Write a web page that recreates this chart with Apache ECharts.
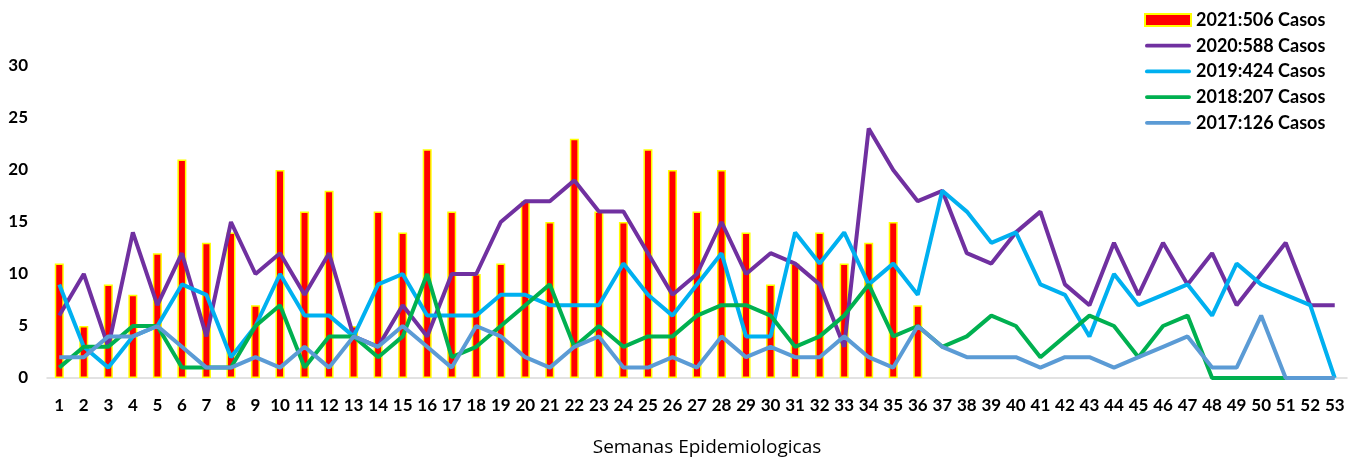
<!DOCTYPE html>
<html><head><meta charset="utf-8">
<script src="https://cdn.jsdelivr.net/npm/echarts@6/dist/echarts.min.js"></script>
<style>html,body{margin:0;padding:0;background:#fff}#c{width:1359px;height:464px}</style>
</head><body><div id="c"></div>
<script>
const weeks = Array.from({length:53},(_, i)=>String(i+1));
const yTicks = [0,5,10,15,20,25,30];
const s2021 = [11,5,9,8,12,21,13,14,7,20,16,18,5,16,14,22,16,10,11,17,15,23,16,15,22,20,16,20,14,9,11,14,11,13,15,7];
const s2020 = [6,10,3,14,7,12,4,15,10,12,8,12,4,3,7,4,10,10,15,17,17,19,16,16,12,8,10,15,10,12,11,9,3,24,20,17,18,12,11,14,16,9,7,13,8,13,9,12,7,10,13,7,7];
const s2019 = [9,3,1,4,5,9,8,2,5,10,6,6,4,9,10,6,6,6,8,8,7,7,7,11,8,6,9,12,4,4,14,11,14,9,11,8,18,16,13,14,9,8,4,10,7,8,9,6,11,9,8,7,0];
const s2018 = [1,3,3,5,5,1,1,1,5,7,1,4,4,2,4,10,2,3,5,7,9,3,5,3,4,4,6,7,7,6,3,4,6,9,4,5,3,4,6,5,2,4,6,5,2,5,6,0,0,0,0];
const s2017 = [2,2,4,4,5,3,1,1,2,1,3,1,4,3,5,3,1,5,4,2,1,3,4,1,1,2,1,4,2,3,2,2,4,2,1,5,3,2,2,2,1,2,2,1,2,3,4,1,1,6,0,0,0];
const names = ['2021:506 Casos','2020:588 Casos','2019:424 Casos','2018:207 Casos','2017:126 Casos'];
const colors = ['#FF0000','#7030A0','#00B0F0','#00B050','#5B9BD5'];
const font = 'Lato, "Open Sans", sans-serif';
const lineIcon = 'path://M0,0 M2,4 L46,4 A2,2 0 0 1 46,8 L2,8 A2,2 0 0 1 2,4 Z M48,12';
const chart = echarts.init(document.getElementById('c'));
function line(i, data){
  return {name:names[i], type:'line', data:data, symbol:'none', showSymbol:false,
    lineStyle:{color:colors[i], width:4}, itemStyle:{color:colors[i]}, z:3+i};
}
chart.setOption({
  animation:false,
  textStyle:{fontFamily:font},
  grid:{left:47, right:12, top:66, bottom:86, outerBoundsMode:'none', containLabel:false},
  legend:{orient:'vertical', left:1139, top:6, itemWidth:46, itemHeight:12, itemGap:7.7,
    textStyle:{fontFamily:font, fontWeight:'bold', fontSize:18, color:'#000'},
    data:[{name:names[0], icon:'rect'}].concat(names.slice(1).map(n=>({name:n, icon:lineIcon})))},
  xAxis:{type:'category', data:weeks, boundaryGap:true,
    axisLine:{lineStyle:{color:'#d9d9d9', width:1.5}}, axisTick:{show:false},
    axisLabel:{interval:0, margin:19, fontWeight:'bold', fontSize:17, color:'#000', fontFamily:font},
    name:'Semanas Epidemiologicas', nameLocation:'middle', nameGap:60,
    nameTextStyle:{fontSize:19, color:'#000', fontFamily:'"Open Sans", Lato, sans-serif', padding:[0,0,0,20]}},
  yAxis:{type:'value', min:yTicks[0], max:yTicks[yTicks.length-1], interval:5,
    splitLine:{show:false}, axisLine:{show:false}, axisTick:{show:false},
    axisLabel:{margin:19, fontWeight:'bold', fontSize:17, color:'#000', fontFamily:font}},
  series:[
    {name:names[0], type:'bar', data:s2021, barWidth:9,
      itemStyle:{color:colors[0], borderColor:'#FFFF00', borderWidth:1.5}, z:2},
    line(1,s2020), line(2,s2019), line(3,s2018), line(4,s2017)
  ]
});
</script></body></html>
